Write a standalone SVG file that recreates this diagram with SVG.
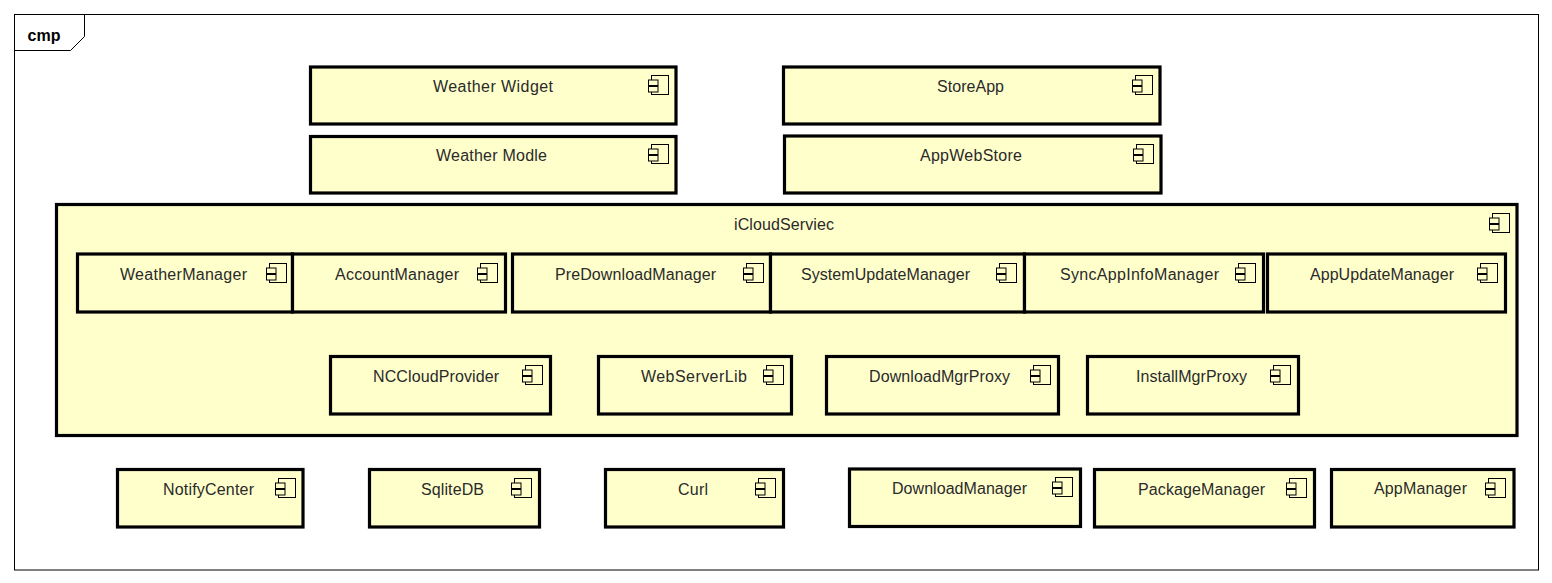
<svg xmlns="http://www.w3.org/2000/svg" width="1552" height="583" viewBox="0 0 1552 583">
<style>
text{font-family:"Liberation Sans",Arial,sans-serif;font-size:16px;fill:#2a2a2a;text-anchor:middle}
.b{fill:#ffffcc;stroke:#000;stroke-width:3.2}
.i{fill:#ffffcc;stroke:#000;stroke-width:1}
.f{fill:none;stroke:#000;stroke-width:1}
</style>
<defs><g id="ic"><rect class="i" x="3" y="0.500" width="17" height="19"/><rect class="i" x="0" y="5" width="9.500" height="5.500"/><rect class="i" x="0" y="11.500" width="9.500" height="5.500"/></g></defs>
<g id="frame"><rect class="f" x="14.500" y="14.500" width="1524" height="555.500"/><path class="f" d="M14.500 50.500H70.500L84.500 36.500V14.500"/><text x="44" y="41" style="font-weight:bold;fill:#000">cmp</text></g>
<g id="connectors"/>
<g id="WeatherWidget"><rect class="b" x="310.500" y="67" width="365.500" height="57"/><use href="#ic" x="648.500" y="75"/><text x="493" y="92" textLength="120">Weather Widget</text></g>
<g id="StoreApp"><rect class="b" x="783.500" y="67" width="376.500" height="57"/><use href="#ic" x="1132.500" y="75"/><text x="970.500" y="92" textLength="67">StoreApp</text></g>
<g id="WeatherModle"><rect class="b" x="310.500" y="136.500" width="365.500" height="56.500"/><use href="#ic" x="648.500" y="144"/><text x="491.500" y="161" textLength="111">Weather Modle</text></g>
<g id="AppWebStore"><rect class="b" x="784.500" y="136" width="376.500" height="57"/><use href="#ic" x="1133.500" y="144"/><text x="971" y="161" textLength="102">AppWebStore</text></g>
<g id="iCloudServiec"><rect class="b" x="56.500" y="204.500" width="1460.500" height="231"/><use href="#ic" x="1489.500" y="213"/><text x="784" y="230" textLength="100">iCloudServiec</text></g>
<g id="WeatherManager"><rect class="b" x="77.500" y="254" width="215" height="58"/><use href="#ic" x="266.500" y="263"/><text x="183.500" y="280" textLength="127">WeatherManager</text></g>
<g id="AccountManager"><rect class="b" x="292.500" y="254" width="213" height="58"/><use href="#ic" x="477.500" y="263"/><text x="397" y="280" textLength="124">AccountManager</text></g>
<g id="PreDownloadManager"><rect class="b" x="512.500" y="254" width="258" height="58"/><use href="#ic" x="743.500" y="263"/><text x="635.500" y="280" textLength="161">PreDownloadManager</text></g>
<g id="SystemUpdateManager"><rect class="b" x="770.500" y="254" width="254" height="58"/><use href="#ic" x="996.500" y="263"/><text x="885.500" y="280" textLength="169">SystemUpdateManager</text></g>
<g id="SyncAppInfoManager"><rect class="b" x="1024.500" y="254" width="239" height="58"/><use href="#ic" x="1235.500" y="263"/><text x="1139.500" y="280" textLength="159">SyncAppInfoManager</text></g>
<g id="AppUpdateManager"><rect class="b" x="1267.500" y="254" width="238" height="58"/><use href="#ic" x="1477.500" y="263"/><text x="1382" y="280" textLength="144">AppUpdateManager</text></g>
<g id="NCCloudProvider"><rect class="b" x="330.500" y="356.500" width="220" height="57.500"/><use href="#ic" x="522.500" y="365"/><text x="436" y="382" textLength="126">NCCloudProvider</text></g>
<g id="WebServerLib"><rect class="b" x="598.500" y="356.500" width="193" height="57.500"/><use href="#ic" x="763.500" y="365"/><text x="694" y="382" textLength="106">WebServerLib</text></g>
<g id="DownloadMgrProxy"><rect class="b" x="826.500" y="356.500" width="232" height="57.500"/><use href="#ic" x="1030.500" y="365"/><text x="939.500" y="382" textLength="141">DownloadMgrProxy</text></g>
<g id="InstallMgrProxy"><rect class="b" x="1087.500" y="356.500" width="211" height="57.500"/><use href="#ic" x="1270.500" y="365"/><text x="1191.500" y="382" textLength="111">InstallMgrProxy</text></g>
<g id="NotifyCenter"><rect class="b" x="117.500" y="469.500" width="185.500" height="57.500"/><use href="#ic" x="275.500" y="478"/><text x="208.500" y="495" textLength="91">NotifyCenter</text></g>
<g id="SqliteDB"><rect class="b" x="369.500" y="469.500" width="170" height="57.500"/><use href="#ic" x="511.500" y="478"/><text x="452.500" y="495" textLength="63">SqliteDB</text></g>
<g id="Curl"><rect class="b" x="605.500" y="469.500" width="178" height="57.500"/><use href="#ic" x="755.500" y="478"/><text x="693" y="495" textLength="30">Curl</text></g>
<g id="DownloadManager"><rect class="b" x="849.500" y="469" width="231" height="57.500"/><use href="#ic" x="1052.500" y="477"/><text x="959.500" y="494" textLength="135">DownloadManager</text></g>
<g id="PackageManager"><rect class="b" x="1094.500" y="469.500" width="220" height="57.500"/><use href="#ic" x="1286.500" y="478"/><text x="1201.500" y="495" textLength="127">PackageManager</text></g>
<g id="AppManager"><rect class="b" x="1331.500" y="469.500" width="182.500" height="57.500"/><use href="#ic" x="1485.500" y="478"/><text x="1420.500" y="494" textLength="93">AppManager</text></g>
</svg>
